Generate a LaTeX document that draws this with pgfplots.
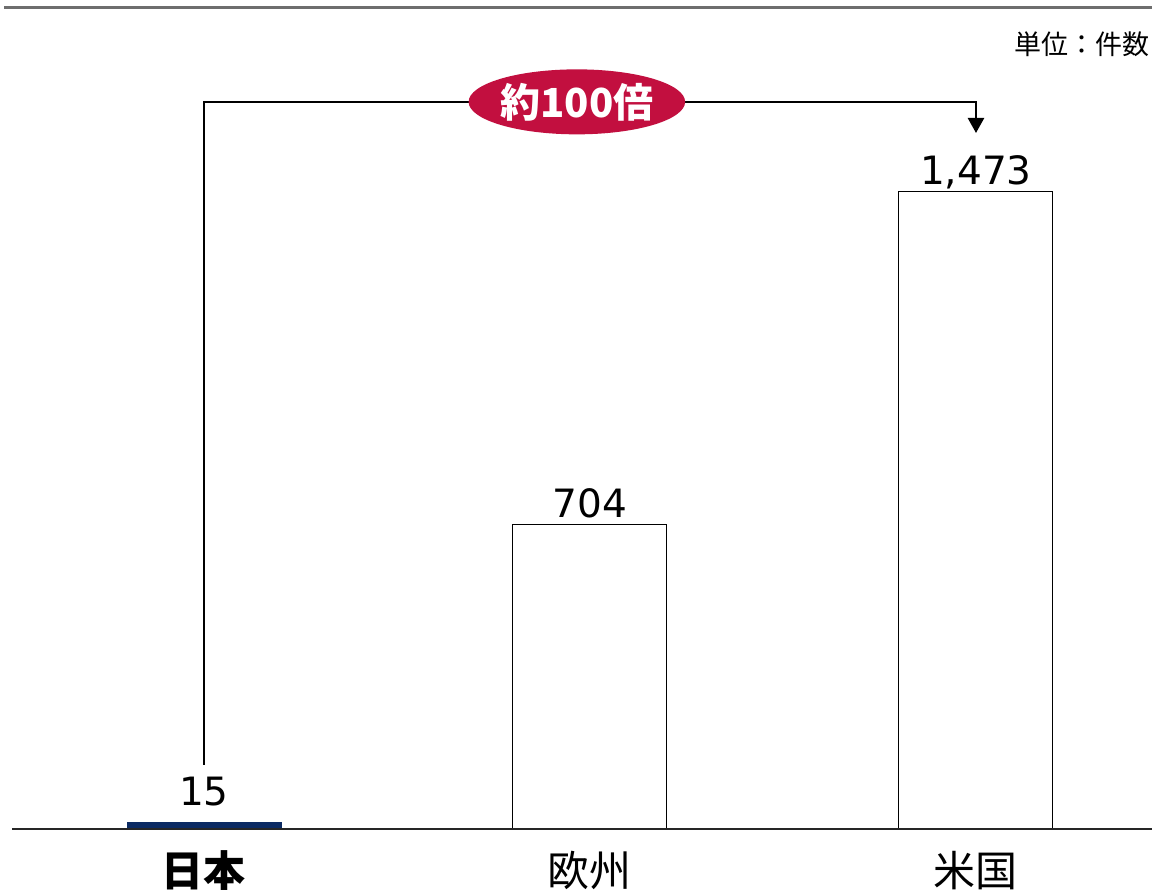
\documentclass[border=0pt]{standalone}
\usepackage{fontspec}
\usepackage{pgfplots}
\pgfplotsset{compat=1.18}
\usetikzlibrary{shapes.geometric,arrows.meta}
\setmainfont{Noto Sans CJK JP}
\newfontfamily\numfont{DejaVu Sans}
\definecolor{navy}{HTML}{0B2A63}
\definecolor{crim}{HTML}{C20F3F}
\definecolor{topgray}{HTML}{6E6E6E}
\begin{document}
\begin{tikzpicture}
\useasboundingbox (0,0) rectangle (576pt,446pt);
\begin{axis}[
  at={(6pt,31.5pt)}, anchor=south west,
  scale only axis, width=570pt, height=410.5pt,
  xmin=-0.4974, xmax=2.456, ymin=0, ymax=1898,
  clip=false,
  axis line style={draw=none},
  ytick=\empty,
  xtick={0,1,2},
  xticklabels={\textbf{日本},欧州,米国},
  major tick length=0pt,
  xticklabel style={font=\fontsize{21}{21}\selectfont, anchor=north, yshift=-7.5pt},
  ybar, bar width=77pt, bar shift=0pt,
  point meta=explicit symbolic,
  nodes near coords,
  every node near coord/.append style={font=\numfont\fontsize{19.5}{20}\selectfont, anchor=base, inner sep=0pt},
]
\addplot[fill=navy, draw=navy, every node near coord/.append style={yshift=8.5pt}] coordinates {(0,15) [15]};
\addplot[fill=white, draw=black, line width=0.5pt, every node near coord/.append style={yshift=3.5pt}] coordinates {(1,704) [704] (2,1473) [{1,473}]};
\draw[topgray, line width=1.5pt] (axis cs:-0.517,1898) -- (rel axis cs:1,1);
\draw[black!85, line width=0.9pt] (rel axis cs:0,0) -- (rel axis cs:1,0);
\draw[line width=1.2pt, -{Triangle[length=7.5pt,width=8pt]}] (axis cs:0,148) -- (axis cs:0,1681) -- (axis cs:2,1681) -- (axis cs:2,1609);
\node[ellipse, fill=crim, minimum width=104pt, minimum height=32.5pt, inner sep=0pt] at (axis cs:0.966,1681) {\color{white}\bfseries\fontsize{20}{20}\selectfont 約100倍};
\node[anchor=east, inner sep=0pt, font=\fontsize{13.5}{14}\selectfont] at (axis cs:2.451,1813) {単位：件数};
\end{axis}
\end{tikzpicture}
\end{document}
